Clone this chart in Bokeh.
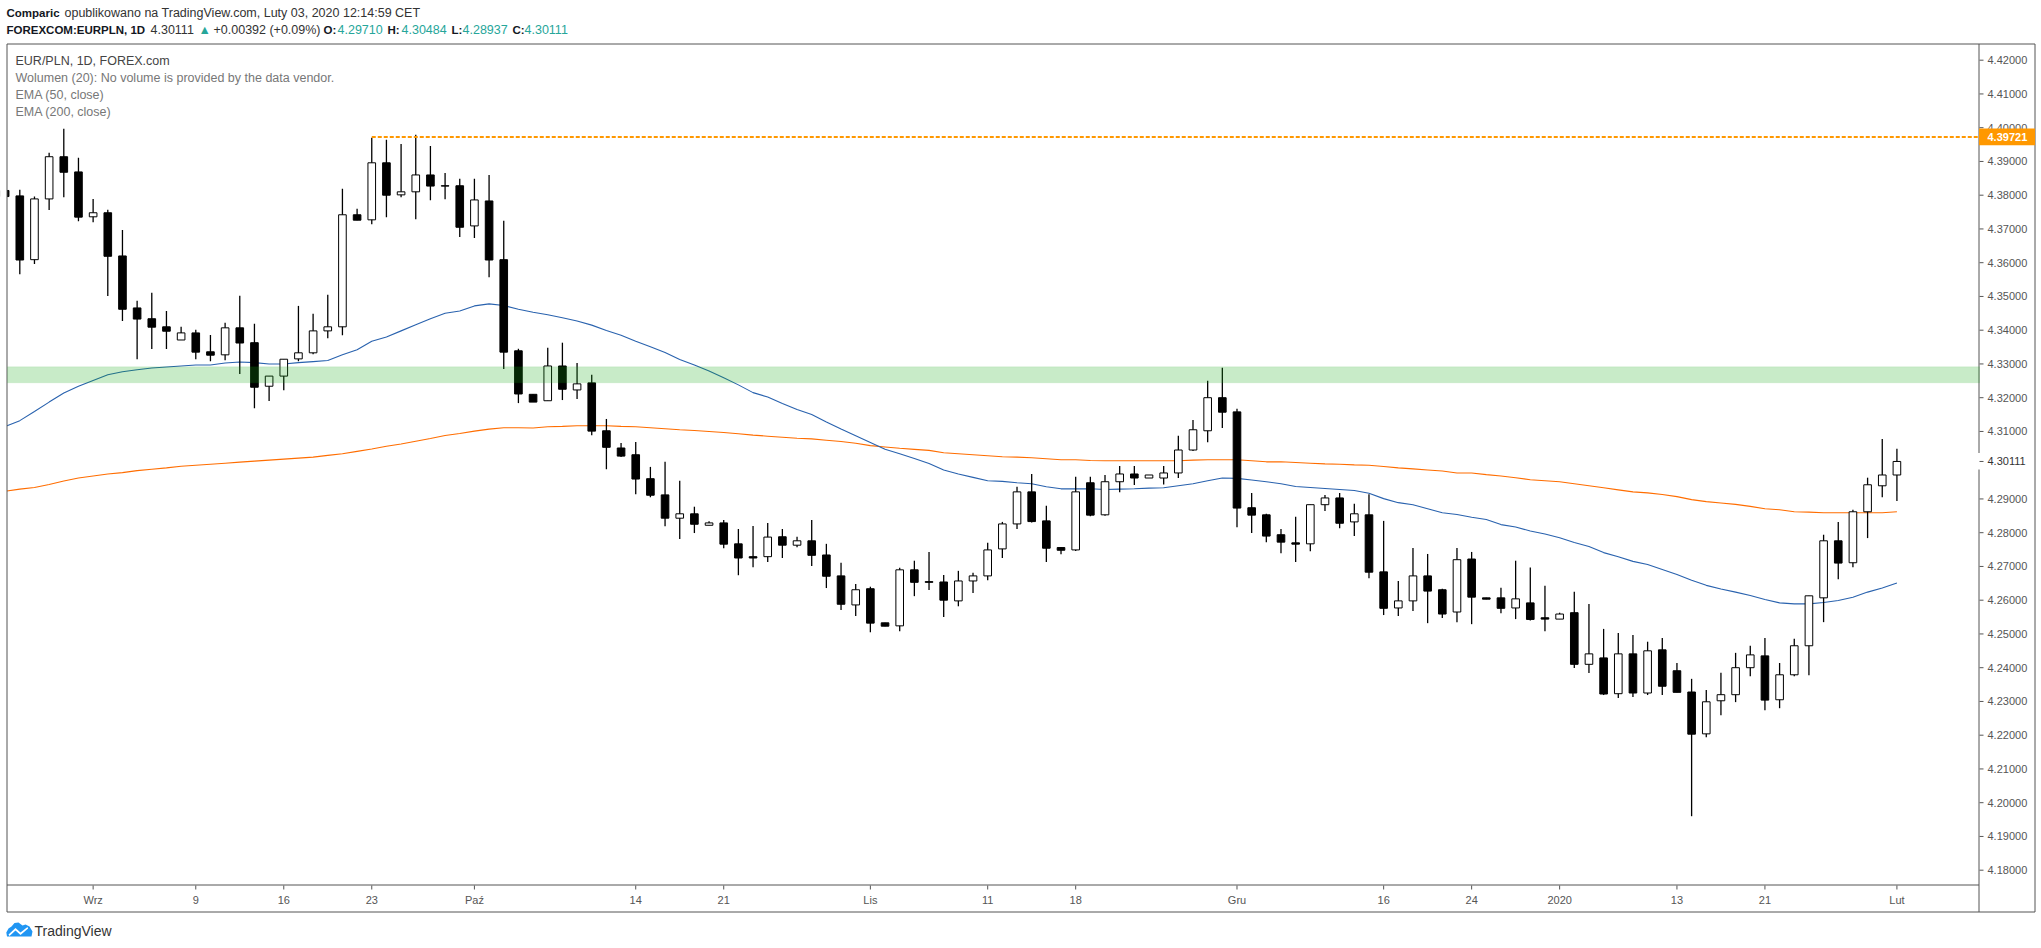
from bokeh.plotting import figure
from bokeh.models import ColumnDataSource, Label, BoxAnnotation
from bokeh.embed import file_html
from bokeh.resources import INLINE

# ---------- data (daily EUR/PLN candles) ----------
opens = [
 4.3814, 4.3798, 4.3609, 4.3789, 4.3914, 4.3869, 4.3736, 4.3748, 4.3620, 4.3466,
 4.3434, 4.3410, 4.3371, 4.3392, 4.3336, 4.3327, 4.3407, 4.3363, 4.3234, 4.3264,
 4.3315, 4.3333, 4.3398, 4.3410, 4.3742, 4.3727, 4.3896, 4.3801, 4.3810, 4.3860,
 4.3828, 4.3828, 4.3709, 4.3783, 4.3609, 4.3339, 4.3210, 4.3191, 4.3294, 4.3223,
 4.3244, 4.3102, 4.3051, 4.3031, 4.2960, 4.2912, 4.2843, 4.2856, 4.2822, 4.2829,
 4.2767, 4.2729, 4.2729, 4.2788, 4.2763, 4.2776, 4.2734, 4.2672, 4.2586, 4.2634,
 4.2533, 4.2524, 4.2690, 4.2655, 4.2654, 4.2598, 4.2657, 4.2672, 4.2752, 4.2826,
 4.2921, 4.2835, 4.2756, 4.2749, 4.2948, 4.2853, 4.2951, 4.2974, 4.2962, 4.2962,
 4.2977, 4.3045, 4.3102, 4.3200, 4.3158, 4.2874, 4.2853, 4.2794, 4.2770, 4.2767,
 4.2883, 4.2903, 4.2832, 4.2853, 4.2684, 4.2577, 4.2598, 4.2672, 4.2631, 4.2565,
 4.2722, 4.2607, 4.2607, 4.2577, 4.2592, 4.2548, 4.2544, 4.2563, 4.2410, 4.2429,
 4.2323, 4.2441, 4.2325, 4.2453, 4.2391, 4.2328, 4.2204, 4.2302, 4.2320, 4.2400,
 4.2435, 4.2305, 4.2379, 4.2465, 4.2607, 4.2776, 4.2711, 4.2862, 4.2939, 4.29710]
closes = [
 4.3796, 4.3608, 4.3789, 4.3914, 4.3868, 4.3735, 4.3748, 4.3619, 4.3462, 4.3433,
 4.3409, 4.3397, 4.3392, 4.3335, 4.3326, 4.3407, 4.3362, 4.3231, 4.3264, 4.3314,
 4.3333, 4.3398, 4.3410, 4.3742, 4.3726, 4.3896, 4.3800, 4.3810, 4.3860, 4.3827,
 4.3827, 4.3705, 4.3786, 4.3608, 4.3335, 4.3211, 4.3187, 4.3294, 4.3225, 4.3241,
 4.3101, 4.3053, 4.3027, 4.2959, 4.2911, 4.2843, 4.2856, 4.2825, 4.2829, 4.2766,
 4.2725, 4.2725, 4.2787, 4.2763, 4.2776, 4.2733, 4.2671, 4.2588, 4.2631, 4.2532,
 4.2523, 4.2690, 4.2653, 4.2653, 4.2600, 4.2657, 4.2672, 4.2749, 4.2826, 4.2921,
 4.2833, 4.2754, 4.2748, 4.2921, 4.2852, 4.2951, 4.2974, 4.2962, 4.2971, 4.2977,
 4.3045, 4.3105, 4.3200, 4.3157, 4.2873, 4.2852, 4.2790, 4.2772, 4.2766, 4.2883,
 4.2903, 4.2828, 4.2856, 4.2683, 4.2576, 4.2598, 4.2672, 4.2627, 4.2559, 4.2720,
 4.2609, 4.2603, 4.2576, 4.2604, 4.2543, 4.2544, 4.2559, 4.2410, 4.2441, 4.2322,
 4.2441, 4.2325, 4.2450, 4.2345, 4.2327, 4.2203, 4.2299, 4.2320, 4.2400, 4.2438,
 4.2304, 4.2379, 4.2465, 4.2613, 4.2776, 4.2710, 4.2862, 4.2942, 4.2971, 4.30111]
highs = [
 4.3816, 4.3816, 4.3796, 4.3926, 4.3997, 4.3911, 4.3789, 4.3757, 4.3697, 4.3487,
 4.3511, 4.3457, 4.3410, 4.3401, 4.3386, 4.3422, 4.3502, 4.3419, 4.3264, 4.3314,
 4.3472, 4.3449, 4.3505, 4.3819, 4.3760, 4.3970, 4.3964, 4.3952, 4.3979, 4.3946,
 4.3866, 4.3849, 4.3849, 4.3860, 4.3724, 4.3345, 4.3210, 4.3348, 4.3363, 4.3303,
 4.3268, 4.3137, 4.3066, 4.3069, 4.2995, 4.3010, 4.2954, 4.2877, 4.2834, 4.2838,
 4.2811, 4.2820, 4.2829, 4.2811, 4.2788, 4.2838, 4.2767, 4.2711, 4.2648, 4.2640,
 4.2533, 4.2696, 4.2717, 4.2743, 4.2675, 4.2687, 4.2681, 4.2770, 4.2832, 4.2936,
 4.2974, 4.2880, 4.2758, 4.2966, 4.2966, 4.2971, 4.2998, 4.2998, 4.2971, 4.2998,
 4.3087, 4.3134, 4.3250, 4.3289, 4.3167, 4.2918, 4.2856, 4.2811, 4.2847, 4.2883,
 4.2912, 4.2918, 4.2886, 4.2914, 4.2835, 4.2657, 4.2755, 4.2737, 4.2634, 4.2755,
 4.2743, 4.2607, 4.2637, 4.2717, 4.2697, 4.2643, 4.2563, 4.2625, 4.2589, 4.2515,
 4.2503, 4.2497, 4.2477, 4.2488, 4.2414, 4.2367, 4.2334, 4.2385, 4.2444, 4.2465,
 4.2488, 4.2414, 4.2486, 4.2613, 4.2794, 4.2832, 4.2868, 4.2963, 4.3078, 4.30484]
lows = [
 4.3794, 4.3566, 4.3596, 4.3756, 4.3794, 4.3723, 4.3720, 4.3501, 4.3427, 4.3314,
 4.3344, 4.3344, 4.3371, 4.3314, 4.3308, 4.3311, 4.3270, 4.3169, 4.3190, 4.3222,
 4.3308, 4.3329, 4.3376, 4.3385, 4.3726, 4.3714, 4.3735, 4.3794, 4.3729, 4.3785,
 4.3788, 4.3676, 4.3673, 4.3557, 4.3285, 4.3184, 4.3187, 4.3191, 4.3193, 4.3196,
 4.3089, 4.2988, 4.3024, 4.2914, 4.2905, 4.2819, 4.2781, 4.2799, 4.2822, 4.2754,
 4.2674, 4.2698, 4.2713, 4.2725, 4.2757, 4.2701, 4.2636, 4.2571, 4.2553, 4.2505,
 4.2523, 4.2508, 4.2612, 4.2630, 4.2550, 4.2582, 4.2621, 4.2659, 4.2725, 4.2811,
 4.2830, 4.2713, 4.2736, 4.2746, 4.2849, 4.2850, 4.2920, 4.2941, 4.2962, 4.2943,
 4.2962, 4.3042, 4.3068, 4.3110, 4.2816, 4.2799, 4.2772, 4.2739, 4.2713, 4.2745,
 4.2864, 4.2813, 4.2790, 4.2665, 4.2556, 4.2553, 4.2568, 4.2532, 4.2547, 4.2535,
 4.2529, 4.2603, 4.2561, 4.2544, 4.2540, 4.2508, 4.2544, 4.2399, 4.2384, 4.2319,
 4.2310, 4.2313, 4.2319, 4.2319, 4.2327, 4.1960, 4.2194, 4.2259, 4.2298, 4.2375,
 4.2274, 4.2280, 4.2375, 4.2378, 4.2535, 4.2662, 4.2698, 4.2784, 4.2905, 4.28937]
ema50 = [
 4.3115, 4.3132, 4.3159, 4.3187, 4.3214, 4.3234, 4.3251, 4.3268, 4.3277, 4.3283,
 4.3288, 4.3291, 4.3294, 4.3297, 4.3297, 4.3303, 4.3306, 4.3304, 4.3300, 4.3300,
 4.3304, 4.3307, 4.3310, 4.3327, 4.3342, 4.3367, 4.3380, 4.3398, 4.3416, 4.3434,
 4.3450, 4.3457, 4.3472, 4.3478, 4.3473, 4.3462, 4.3453, 4.3446, 4.3437, 4.3427,
 4.3415, 4.3399, 4.3385, 4.3367, 4.3351, 4.3334, 4.3313, 4.3297, 4.3279, 4.3259,
 4.3238, 4.3215, 4.3202, 4.3183, 4.3165, 4.3150, 4.3128, 4.3107, 4.3087, 4.3067,
 4.3047, 4.3034, 4.3020, 4.3005, 4.2986, 4.2974, 4.2964, 4.2954, 4.2952, 4.2948,
 4.2945, 4.2936, 4.2930, 4.2930, 4.2930, 4.2928, 4.2929, 4.2930, 4.2932, 4.2933,
 4.2939, 4.2945, 4.2954, 4.2962, 4.2961, 4.2956, 4.2951, 4.2945, 4.2937, 4.2934,
 4.2931, 4.2928, 4.2925, 4.2917, 4.2901, 4.2889, 4.2883, 4.2871, 4.2859, 4.2854,
 4.2846, 4.2839, 4.2824, 4.2817, 4.2805, 4.2796, 4.2785, 4.2771, 4.2759, 4.2741,
 4.2729, 4.2715, 4.2706, 4.2691, 4.2676, 4.2659, 4.2644, 4.2633, 4.2624, 4.2614,
 4.2602, 4.2592, 4.2589, 4.2589, 4.2593, 4.2599, 4.2609, 4.2624, 4.2636, 4.2651]
ema200 = [
 4.2923, 4.2929, 4.2934, 4.2943, 4.2953, 4.2962, 4.2968, 4.2974, 4.2978, 4.2984,
 4.2988, 4.2992, 4.2997, 4.3000, 4.3003, 4.3006, 4.3009, 4.3012, 4.3015, 4.3018,
 4.3021, 4.3024, 4.3029, 4.3034, 4.3041, 4.3048, 4.3056, 4.3063, 4.3071, 4.3079,
 4.3088, 4.3094, 4.3101, 4.3107, 4.3111, 4.3111, 4.3110, 4.3114, 4.3115, 4.3117,
 4.3117, 4.3117, 4.3115, 4.3114, 4.3111, 4.3108, 4.3105, 4.3103, 4.3100, 4.3097,
 4.3093, 4.3089, 4.3086, 4.3083, 4.3080, 4.3078, 4.3074, 4.3070, 4.3065, 4.3058,
 4.3054, 4.3050, 4.3047, 4.3044, 4.3037, 4.3034, 4.3031, 4.3028, 4.3025, 4.3024,
 4.3022, 4.3019, 4.3016, 4.3016, 4.3014, 4.3013, 4.3013, 4.3013, 4.3013, 4.3013,
 4.3013, 4.3015, 4.3016, 4.3016, 4.3016, 4.3013, 4.3010, 4.3010, 4.3008, 4.3006,
 4.3004, 4.3003, 4.3001, 4.3000, 4.2996, 4.2992, 4.2989, 4.2986, 4.2983, 4.2977,
 4.2977, 4.2972, 4.2968, 4.2963, 4.2957, 4.2954, 4.2951, 4.2945, 4.2939, 4.2933,
 4.2927, 4.2921, 4.2918, 4.2913, 4.2907, 4.2898, 4.2892, 4.2888, 4.2884, 4.2878,
 4.2871, 4.2868, 4.2862, 4.2861, 4.2859, 4.2859, 4.2859, 4.2859, 4.2859, 4.2862]
first_day = -1
zone_top, zone_bottom = 4.32915, 4.3244
resistance = 4.39721
resistance_from_day = 24
last_close = 4.30111
price_ticks = [4.18, 4.19, 4.20, 4.21, 4.22, 4.23, 4.24, 4.25, 4.26, 4.27, 4.28, 4.29,
               4.31, 4.32, 4.33, 4.34, 4.35, 4.36, 4.37, 4.38, 4.39, 4.40, 4.41, 4.42]
time_tick_days = [5, 12, 18, 24, 31, 42, 48, 58, 66, 72, 83, 93, 99, 105, 113, 119, 128]
time_tick_labels = ["Wrz", "9", "16", "23", "Paź", "14", "21", "Lis", "11", "18", "Gru",
                    "16", "24", "2020", "13", "21", "Lut"]
header_1 = [("Comparic", 6, True, "#131722"), ("opublikowano na TradingView.com, Luty 03, 2020 12:14:59 CET", 64, False, "#333333")]
header_2 = [("FOREXCOM:EURPLN, 1D", 6, True, "#131722"), ("4.30111", 150, False, "#333333"),
            ("▲", 198, False, "#26a69a"), ("+0.00392 (+0.09%)", 213, False, "#333333"),
            ("O:", 323, True, "#131722"), ("4.29710", 337, False, "#26a69a"),
            ("H:", 387, True, "#131722"), ("4.30484", 401, False, "#26a69a"),
            ("L:", 451, True, "#131722"), ("4.28937", 462, False, "#26a69a"),
            ("C:", 512, True, "#131722"), ("4.30111", 524, False, "#26a69a")]
legend_rows = [("EUR/PLN, 1D, FOREX.com", 60.7, False, "#444444"),
               ("Wolumen (20): No volume is provided by the data vendor.", 77.3, False, "#777777"),
               ("EMA (50, close)", 94.7, False, "#777777"),
               ("EMA (200, close)", 111.7, False, "#777777")]

# ---------- geometry: the Bokeh frame fills the canvas, so the price and time scales reach the margins ----------
FL, FR, FT, FB = 7, 1979, 43, 884
W, H = 2036, 940
DAY0, DAY_PX = 19.3, 14.665
PX_PER_PRICE = 3375.0
Y420 = 59.7
X = lambda px: (px - DAY0) / DAY_PX
Y = lambda py: 4.42 - (py - Y420) / PX_PER_PRICE

days = [first_day + k for k in range(len(opens))]
BLACK, LINE = "#000000", "#555555"
src = ColumnDataSource(dict(
    x=days, o=opens, c=closes, h=highs, l=lows,
    top=[max(a, b) for a, b in zip(opens, closes)],
    bot=[min(a, b) for a, b in zip(opens, closes)],
    fill=[BLACK if c < o else "#ffffff" for o, c in zip(opens, closes)],
    e50=ema50, e200=ema200))

p = figure(width=W, height=H, output_backend="svg", toolbar_location=None,
           x_range=(X(0), X(W)), y_range=(Y(H), Y(0)), x_axis_location=None, y_axis_location=None,
           min_border=0, background_fill_color="#ffffff", border_fill_color="#ffffff",
           outline_line_color=None)
p.grid.visible = False

# series
p.line("x", "e200", source=src, line_color="#ff6d00", line_width=1.1)
p.line("x", "e50", source=src, line_color="#2962ae", line_width=1.1)
p.segment("x", "h", "x", "l", source=src, line_color=BLACK, line_width=1.3)
p.vbar("x", 0.52, "bot", "top", source=src, fill_color="fill", line_color=BLACK, line_width=1)
res = p.segment([resistance_from_day], [resistance], [X(FR)], [resistance], line_color="#ff9800", line_width=2)
res.glyph.line_dash = [4, 2]
p.add_layout(BoxAnnotation(bottom=zone_bottom, top=zone_top, left=X(FL), right=X(FR), fill_color="#15aa15",
                           fill_alpha=0.235, line_color="#15aa15", line_alpha=0.08, line_width=1))

# the chart frame hides what runs past its left edge
p.quad(left=[X(0)], right=[X(6.5)], bottom=[Y(884)], top=[Y(43)], fill_color="#ffffff", line_color=None)

# frame lines, price scale line with its gap at the last close, tick marks
rules = [(6.5, 43.5, 2034.5, 43.5), (6.5, 911.5, 2034.5, 911.5), (6.5, 43.5, 6.5, 911.5),
         (2034.5, 43.5, 2034.5, 911.5), (6.5, 884.5, 2034.5 - 56, 884.5),
         (1978.5, 43.5, 1978.5, 452.5), (1978.5, 469, 1978.5, 911.5)]
seg_x0 = [X(r[0]) for r in rules]
seg_y0 = [Y(r[1]) for r in rules]
seg_x1 = [X(r[2]) for r in rules]
seg_y1 = [Y(r[3]) for r in rules]
for v in price_ticks + [last_close]:
    seg_x0.append(X(1979))
    seg_x1.append(X(1983))
    seg_y0.append(v)
    seg_y1.append(v)
for d in time_tick_days:
    seg_x0.append(d)
    seg_x1.append(d)
    seg_y0.append(Y(885))
    seg_y1.append(Y(889))
p.segment(x0=seg_x0, y0=seg_y0, x1=seg_x1, y1=seg_y1, line_color=LINE, line_width=1)


def text(s, x, y, bold=False, color="#333333", size="12.5px", align="left"):
    p.add_layout(Label(x=x, y=y, text=s, text_font="Liberation Sans", text_font_size=size,
                       text_font_style="bold" if bold else "normal", text_color=color,
                       text_baseline="middle", text_align=align))


for v in price_ticks:
    text(f"{v:.5f}", X(1987), v, False, "#555555", "11px")
text(f"{last_close:.5f}", X(1987), last_close, False, "#333333", "11px")
for d, s in zip(time_tick_days, time_tick_labels):
    text(s, d, Y(899), False, "#555555", "11px", "center")

# marker of the resistance level on the price scale
p.add_layout(BoxAnnotation(left=X(1978.5), right=X(2034.5), top=Y(128), bottom=Y(144.7),
                           fill_color="#ff9800", fill_alpha=1, line_color=None))
text(f"{resistance:.5f}", X(1987), Y(136.5), True, "#ffffff", "11px")

for s, px, bold, col in header_1:
    text(s, X(px), Y(12.7), bold, col, "11.5px" if bold else "12.5px")
for s, px, bold, col in header_2:
    text(s, X(px), Y(29.3), bold, col, "11.5px" if bold else "12.5px")
for s, py, bold, col in legend_rows:
    text(s, X(15), Y(py), bold, col)

# logo + brand name
cloud = [(6.5, 936), (5.8, 932), (8, 928), (11, 926), (14, 922.5), (18, 922), (22, 925), (25, 924),
         (29, 926), (32, 931), (31, 936)]
zigzag = [(8, 934), (15, 927.5), (20, 932), (27, 926.5), (27.6, 928), (20, 934.5), (15, 930), (9, 935.5)]
p.patch([X(q[0]) for q in cloud], [Y(q[1]) for q in cloud], fill_color="#2196f3", line_color=None)
p.patch([X(q[0]) for q in zigzag], [Y(q[1]) for q in zigzag], fill_color="#ffffff", line_color=None)
text("TradingView", X(34), Y(930), False, "#333333", "14px")

html = file_html(p, INLINE)
open("out.html", "w").write(html)
